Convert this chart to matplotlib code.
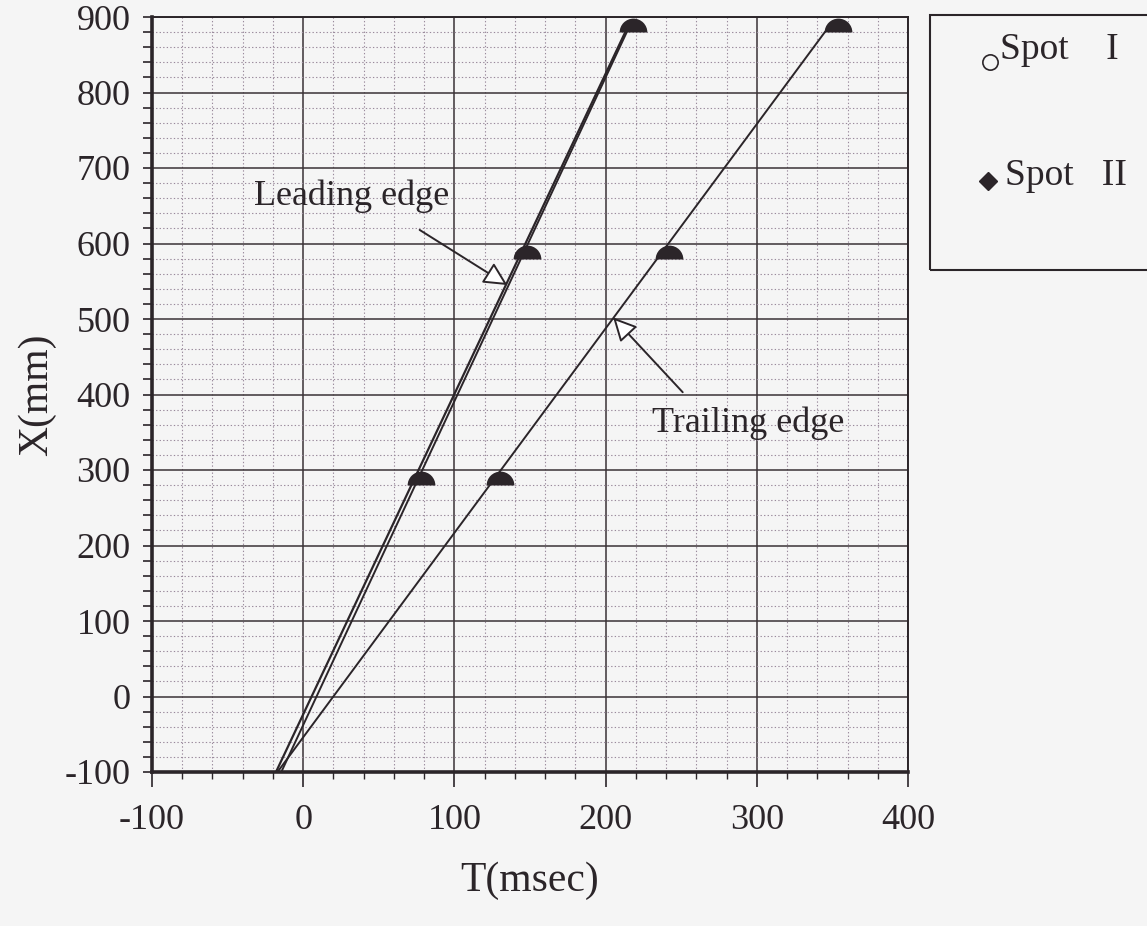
import numpy as np
import matplotlib
matplotlib.use("Agg")
import matplotlib.pyplot as plt
from matplotlib.patches import Rectangle
from matplotlib.lines import Line2D
from matplotlib.ticker import MultipleLocator

# measured spot positions
spot_x = [280, 580, 880]
lead_t = [78, 148, 218]
trail_t = [130, 242, 354]

# fitted edge lines (end points)
lead1_t = [-18, 213]
lead1_x = [-100, 880]
lead2_t = [-14.5, 214]
lead2_x = [-100, 880]
trail_line_t = [-17, 345]
trail_line_x = [-100, 880]

xticks = [-100, 0, 100, 200, 300, 400]
yticks = [-100, 0, 100, 200, 300, 400, 500, 600, 700, 800, 900]

ink = "#2b2529"
bg = "#f5f5f5"

plt.rcParams["font.family"] = ["Liberation Serif", "DejaVu Serif"]
plt.rcParams["axes.unicode_minus"] = False

fig = plt.figure(figsize=(11.47, 9.26), dpi=100, facecolor=bg)
ax = fig.add_axes([152/1147, 1-772/926, (908-152)/1147, (772-17)/926])
ax.set_facecolor(bg)

ax.set_xlim(-100, 400)
ax.set_ylim(-100, 900)
ax.xaxis.set_minor_locator(MultipleLocator(20))
ax.yaxis.set_minor_locator(MultipleLocator(20))
ax.set_xticks(xticks)
ax.set_yticks(yticks)

ax.grid(which="major", color="#3a3236", lw=1.1)
ax.grid(which="minor", color="#9a8a9c", lw=0.8, linestyle=(0, (1.2, 2.0)))
ax.set_axisbelow(True)

for s in ["left", "bottom"]:
    ax.spines[s].set_linewidth(2.6)
    ax.spines[s].set_color(ink)
for s in ["top", "right"]:
    ax.spines[s].set_linewidth(1.4)
    ax.spines[s].set_color(ink)

ax.tick_params(axis="x", which="major", length=11, width=1.2, color=ink,
               labelsize=26, pad=12, labelcolor=ink)
ax.tick_params(axis="x", which="minor", length=5, width=1.0, color=ink)
ax.tick_params(axis="y", which="both", length=6.5, width=1.2, color=ink,
               labelsize=26, pad=9, labelcolor=ink)

ax.set_xlabel("T(msec)", fontsize=30, color=ink, labelpad=18)
ax.set_ylabel("X(mm)", fontsize=30, color=ink, labelpad=6)

# edge lines
ax.plot(lead1_t, lead1_x, color=ink, lw=1.6)
ax.plot(lead2_t, lead2_x, color=ink, lw=1.4)
ax.plot(trail_line_t, trail_line_x, color=ink, lw=1.4)

# spot markers (scanned as half-filled domes)
for t in (lead_t, trail_t):
    ax.plot(t, spot_x, linestyle="none", marker="o", fillstyle="top",
            markersize=20, markerfacecolor=ink, markerfacecoloralt="none",
            markeredgewidth=0, clip_on=False)

arrow = dict(arrowstyle="-|>", fc="white", ec=ink, lw=1.4, mutation_scale=36,
             shrinkA=0, shrinkB=0)
ax.annotate("", xy=(135, 545), xytext=(77, 618), arrowprops=arrow)
ax.text(32, 662, "Leading edge", fontsize=26, color=ink, ha="center", va="center")
ax.annotate("", xy=(205, 502), xytext=(251, 403), arrowprops=arrow)
ax.text(294, 362, "Trailing edge", fontsize=26, color=ink, ha="center", va="center")

# legend box
fig.patches.append(Rectangle((930/1147, 1-270/926), 260/1147, 255/926,
                             transform=fig.transFigure, fill=False,
                             ec=ink, lw=1.5, clip_on=False))
fig.lines.append(Line2D([990/1147], [1-62/926], transform=fig.transFigure,
                        marker="o", markersize=11, markerfacecolor="none",
                        markeredgecolor=ink, markeredgewidth=1.2, linestyle="none"))
fig.text(1000/1147, 1-50/926, "Spot    I", fontsize=27, color=ink, va="center")
fig.lines.append(Line2D([988/1147], [1-181/926], transform=fig.transFigure,
                        marker="D", markersize=9, markerfacecolor=ink,
                        markeredgecolor=ink, linestyle="none"))
fig.text(1005/1147, 1-176/926, "Spot   II", fontsize=27, color=ink, va="center")

fig.savefig("out.png", dpi=100, facecolor=bg)
